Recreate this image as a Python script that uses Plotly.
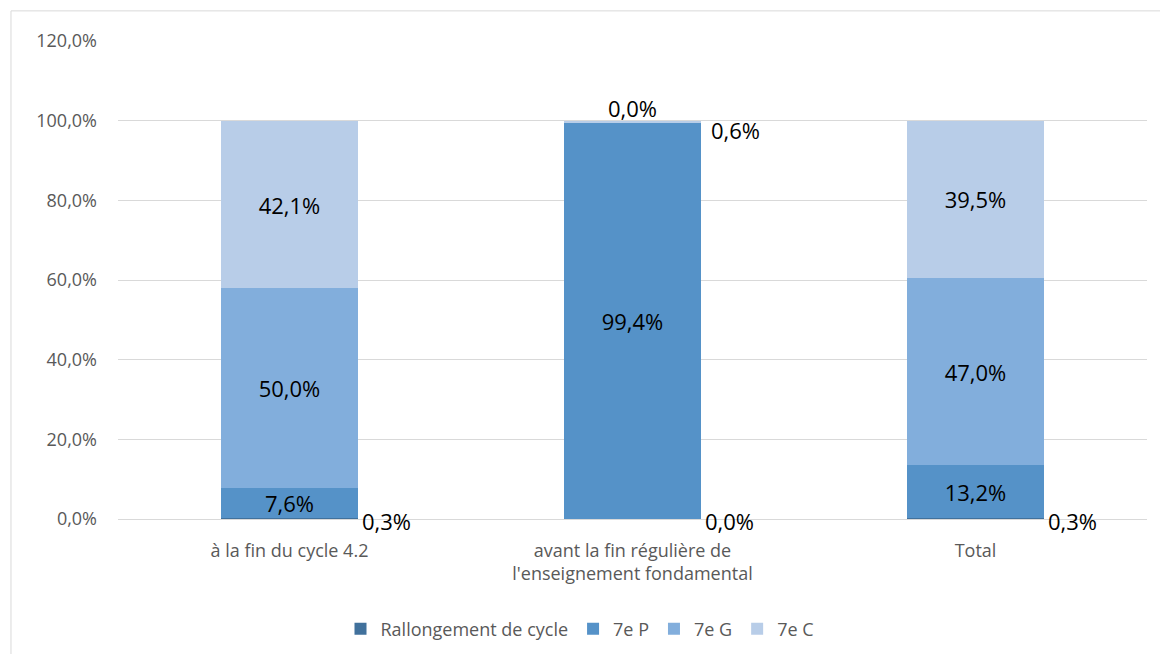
import plotly.graph_objects as go

categories = ["à la fin du cycle 4.2",
              "avant la fin régulière de<br>l'enseignement fondamental",
              "Total"]
series_names = ["Rallongement de cycle", "7e P", "7e G", "7e C"]
rallongement = [0.3, 0.0, 0.3]
p7 = [7.6, 99.4, 13.2]
g7 = [50.0, 0.0, 47.0]
c7 = [42.1, 0.6, 39.5]
y_ticks = [0, 20, 40, 60, 80, 100, 120]
y_tick_labels = ["0,0%", "20,0%", "40,0%", "60,0%", "80,0%", "100,0%", "120,0%"]

colors = ["#41719C", "#5592C8", "#82AEDC", "#B8CDE8"]
FONT = "Open Sans"
LBL = 22
TICK = 18

def fmt(v):
    return f"{v:.1f}".replace(".", ",") + "%"

fig = go.Figure()
all_series = [rallongement, p7, g7, c7]
for name, vals, col in zip(series_names, all_series, colors):
    texts = [fmt(v) if v >= 2 else "" for v in vals]
    fig.add_trace(go.Bar(
        x=categories, y=vals, name=name, marker_color=col,
        marker_line_width=0, width=0.4,
        text=texts, textposition="inside", insidetextanchor="middle",
        textangle=0, constraintext="none",
        textfont=dict(family=FONT, size=LBL, color="#000000"),
        hoverinfo="skip",
    ))

annotations = []
for i, cat in enumerate(categories):
    annotations.append(dict(x=cat, y=0, text=fmt(rallongement[i]), showarrow=False,
                            xanchor="left", yanchor="middle", xshift=70, yshift=-2,
                            font=dict(family=FONT, size=LBL, color="#000")))
    base = rallongement[i] + p7[i]
    if g7[i] < 2:
        annotations.append(dict(x=cat, y=base + g7[i], text=fmt(g7[i]), showarrow=False,
                                xanchor="center", yanchor="bottom", yshift=-2,
                                font=dict(family=FONT, size=LBL, color="#000")))
    top = base + g7[i] + c7[i]
    if c7[i] < 2:
        annotations.append(dict(x=cat, y=top, text=fmt(c7[i]), showarrow=False,
                                xanchor="left", yanchor="middle", xshift=76, yshift=-9,
                                font=dict(family=FONT, size=LBL, color="#000")))

fig.update_layout(
    barmode="stack",
    width=1160, height=654,
    margin=dict(l=118, r=13, t=41, b=135, autoexpand=False),
    paper_bgcolor="white", plot_bgcolor="white",
    showlegend=True,
    legend=dict(orientation="h", x=0.5, xanchor="center", xref="container",
                y=1 - 629 / 654, yanchor="middle", yref="container",
                font=dict(family=FONT, size=TICK, color="#595959"),
                traceorder="normal", itemwidth=30, itemsizing="constant"),
    annotations=annotations,
    shapes=[dict(type="line", xref="paper", yref="paper", x0=-0.104, x1=-0.104, y0=-0.3, y1=1.063,
                 line=dict(color="#D9D9D9", width=1)),
            dict(type="line", xref="paper", yref="paper", x0=-0.104, x1=1.02, y0=1.063, y1=1.063,
                 line=dict(color="#D9D9D9", width=1))],
)
fig.update_yaxes(range=[0, 120], tickvals=y_ticks, ticktext=y_tick_labels,
                 showgrid=True, gridcolor="#D9D9D9", gridwidth=1, zeroline=False,
                 showline=False, ticks="", ticklen=0, ticklabelstandoff=20,
                 tickfont=dict(family=FONT, size=TICK, color="#595959"))
fig.update_xaxes(showline=True, linecolor="#D9D9D9", linewidth=1, ticks="",
                 ticklabelstandoff=15,
                 tickfont=dict(family=FONT, size=TICK, color="#595959"))

fig.write_html("out.html")
